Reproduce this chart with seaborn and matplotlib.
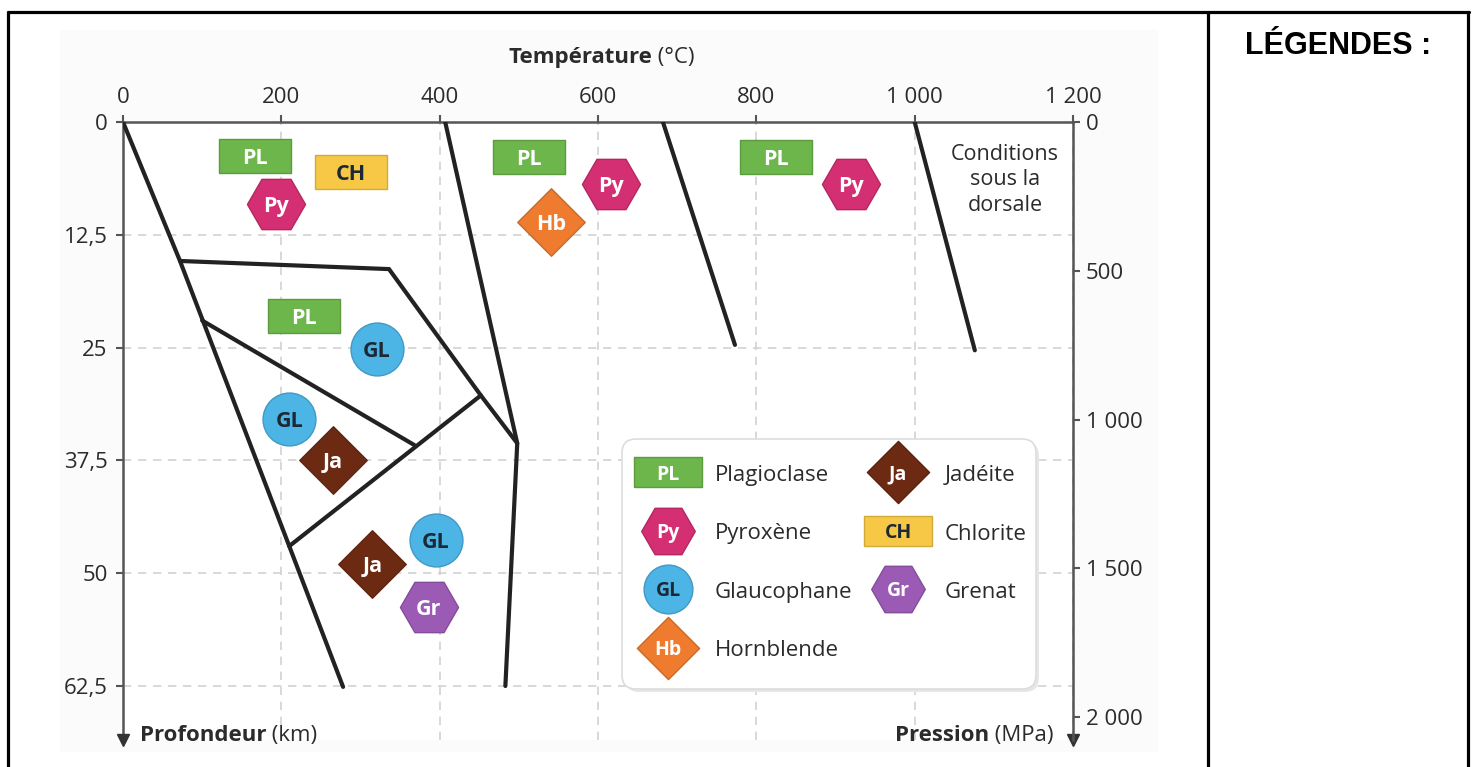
import matplotlib
matplotlib.use("Agg")
import matplotlib.pyplot as plt
import matplotlib.colors as mcolors
import seaborn as sns
from matplotlib.patches import FancyBboxPatch, Rectangle
from matplotlib.lines import Line2D
from matplotlib.text import Annotation

# Axis ticks
temp_ticks = [0, 200, 400, 600, 800, 1000, 1200]
temp_labels = ["0", "200", "400", "600", "800", "1 000", "1 200"]
depth_ticks = [0, 12.5, 25, 37.5, 50, 62.5]
depth_labels = ["0", "12,5", "25", "37,5", "50", "62,5"]
pressure_ticks = [0, 500, 1000, 1500, 2000]
pressure_labels = ["0", "500", "1 000", "1 500", "2 000"]

# Boundary lines (temperature in °C, depth in km)
line1_t = [0, 72, 210, 278]
line1_d = [0, 15.4, 47.0, 62.6]
line2_t = [72, 336, 452, 498]
line2_d = [15.4, 16.3, 30.3, 35.6]
line3_t = [100, 368]
line3_d = [22.0, 35.8]
line4_t = [210, 452]
line4_d = [47.0, 30.3]
line5_t = [407, 498, 483]
line5_d = [0, 35.6, 62.5]
line6_t = [682, 773]
line6_d = [0, 24.7]
line7_t = [1000, 1076]
line7_d = [0, 25.3]

# Minerals
codes = ["PL", "Py", "GL", "Hb", "Ja", "CH", "Gr"]
names = ["Plagioclase", "Pyroxène", "Glaucophane", "Hornblende", "Jadéite", "Chlorite", "Grenat"]
colors = ["#6cb64b", "#d42f72", "#4db4e6", "#ee7b2e", "#6c2a13", "#f7c846", "#9b5bb5"]
text_colors = ["white", "white", "#1c2833", "white", "white", "#1c2833", "white"]

pl_t = [167, 513, 825, 229]
pl_d = [3.8, 3.9, 3.9, 21.5]
py_t = [193, 617, 920]
py_d = [9.1, 6.9, 6.9]
gl_t = [321, 210, 395]
gl_d = [25.2, 32.9, 46.3]
hb_t = [541]
hb_d = [11.1]
ja_t = [265, 315]
ja_d = [37.5, 49.0]
ch_t = [288]
ch_d = [5.5]
gr_t = [386]
gr_d = [53.7]

points_t = [pl_t, py_t, gl_t, hb_t, ja_t, ch_t, gr_t]
points_d = [pl_d, py_d, gl_d, hb_d, ja_d, ch_d, gr_d]

rect = [(-1, -0.46), (1, -0.46), (1, 0.46), (-1, 0.46), (-1, -0.46)]
shapes = [rect, "H", "o", "D", "D", rect, "H"]
sizes = [2750, 1750, 1450, 1180, 1180, 2750, 1750]

sns.set_theme(style="white")
plt.rcParams["font.family"] = ["Open Sans", "DejaVu Sans"]
plt.rcParams["text.color"] = "#2b2b2b"

W, H = 1473, 767


def fx(px):
    return px / W


def fy(py):
    return 1 - py / H


def darker(c, f=0.85):
    r, g, b = mcolors.to_rgb(c)
    return (r * f, g * f, b * f)


fig = plt.figure(figsize=(W / 100, H / 100), dpi=100)

# Outer frame and faint chart panel
fig.patches.append(Rectangle((fx(60), fy(752)), fx(1158) - fx(60), fy(30) - fy(752),
                             transform=fig.transFigure, fc="#fcfbfc", ec="none", zorder=-5))
frame_kw = dict(transform=fig.transFigure, color="black", lw=2.3)
fig.add_artist(Line2D([fx(8), fx(1469)], [fy(12), fy(12)], **frame_kw))
fig.add_artist(Line2D([fx(8), fx(8)], [fy(12), fy(770)], **frame_kw))
fig.add_artist(Line2D([fx(1208), fx(1208)], [fy(12), fy(770)], **frame_kw))
fig.add_artist(Line2D([fx(1468), fx(1468)], [fy(12), fy(770)], **frame_kw))
fig.text(fx(1338), fy(46), "LÉGENDES :", ha="center", va="center", fontsize=22,
         fontweight="bold", family=["Liberation Sans", "DejaVu Sans"], color="black")

# Main axes
ax = fig.add_axes([fx(123), fy(740), fx(1073) - fx(123), fy(122) - fy(740)])
ax.set_facecolor("white")
ax.set_xlim(0, 1200)
depth_max = (740 - 122) / 9.024
ax.set_ylim(depth_max, 0)
km_to_mpa = 2000 / ((717 - 122) / 9.024)

ax.set_xticks(temp_ticks)
ax.set_xticklabels(temp_labels)
ax.set_yticks(depth_ticks)
ax.set_yticklabels(depth_labels)
ax.xaxis.tick_top()
spine_col = "#555555"
ax.tick_params(axis="x", top=True, bottom=False, labeltop=True, labelbottom=False,
               direction="out", length=5, width=1.5, color=spine_col, pad=5,
               labelsize=16, labelcolor="#2b2b2b")
ax.tick_params(axis="y", left=True, direction="out", length=5, width=1.5,
               color=spine_col, pad=6, labelsize=16, labelcolor="#2b2b2b")
for side in ["bottom", "right"]:
    ax.spines[side].set_visible(False)
for side in ["top", "left"]:
    ax.spines[side].set_color(spine_col)
    ax.spines[side].set_linewidth(1.8)
ax.grid(True, ls=(0, (5, 4)), color="#d2d2d2", lw=1.2)
ax.set_axisbelow(True)

ax2 = ax.twinx()
ax2.set_ylim(depth_max * km_to_mpa, 0)
ax2.set_yticks(pressure_ticks)
ax2.set_yticklabels(pressure_labels)
ax2.tick_params(axis="y", right=True, direction="out", length=5, width=1.5,
                color=spine_col, pad=4, labelsize=16, labelcolor="#2b2b2b")
for side in ["top", "bottom", "left"]:
    ax2.spines[side].set_visible(False)
ax2.spines["right"].set_color(spine_col)
ax2.spines["right"].set_linewidth(1.8)
ax2.grid(False)

# Axis arrowheads
for xa in [0, 1]:
    ax.plot([xa], [0.0], marker="v", ms=9, color="#333333", transform=ax.transAxes,
            clip_on=False, zorder=5)

# Boundary lines
line_sets = [(line1_t, line1_d), (line2_t, line2_d), (line3_t, line3_d), (line4_t, line4_d),
             (line5_t, line5_d), (line6_t, line6_d), (line7_t, line7_d)]
for lt, ld in line_sets:
    sns.lineplot(x=lt, y=ld, ax=ax, sort=False, estimator=None, color="#222222",
                 lw=3.0, solid_capstyle="round", solid_joinstyle="miter", zorder=3)

# Mineral symbols
for code, col, tcol, shp, sz, pt, pd_ in zip(codes, colors, text_colors, shapes, sizes,
                                             points_t, points_d):
    sns.scatterplot(x=pt, y=pd_, ax=ax, marker=shp, s=sz, color=col,
                    edgecolor=darker(col), linewidth=1.0, zorder=4)
    for t, d in zip(pt, pd_):
        ax.text(t, d, code, ha="center", va="center_baseline", fontsize=15.5,
                fontweight="bold", color=tcol, zorder=5)

# Label for the ridge geotherm
ax.text(1114, 6.4, "Conditions\nsous la\ndorsale", ha="center", va="center",
        fontsize=15.5, linespacing=1.28, color="#2b2b2b")


# Axis titles (bold name + regular unit)
def two_part(x, y, bold, unit, ha="left"):
    t1 = fig.text(fx(x), fy(y), bold, ha=ha, va="bottom", fontsize=16, fontweight="bold",
                  color="#2b2b2b")
    fig.add_artist(Annotation(" " + unit, xy=(1, 0), xycoords=t1, va="bottom",
                              ha="left", fontsize=16, color="#2b2b2b"))


two_part(652, 68, "Température", "(°C)", ha="right")
two_part(140, 746, "Profondeur", "(km)")
two_part(895, 746, "Pression", "(MPa)")

# Legend box
lax = fig.add_axes([fx(620), fy(693), fx(1041) - fx(620), fy(437) - fy(693)])
lax.set_xlim(0, 421)
lax.set_ylim(256, 0)
lax.axis("off")
lax.add_patch(FancyBboxPatch((5, 5), 414, 250, boxstyle="round,pad=0,rounding_size=14",
                             fc="#e6e6e6", ec="none", zorder=0))
lax.add_patch(FancyBboxPatch((2, 2), 414, 250, boxstyle="round,pad=0,rounding_size=14",
                             fc="white", ec="#dddddd", lw=1.2, zorder=1))
for i, (code, name, col, tcol, shp, sz) in enumerate(zip(codes, names, colors,
                                                        text_colors, shapes, sizes)):
    c, r = i // 4, i % 4
    ix, iy = 48 + c * 230, 35 + r * 58.5
    sns.scatterplot(x=[ix], y=[iy], ax=lax, marker=shp, s=sz * 0.85, color=col,
                    edgecolor=darker(col), linewidth=1.0, zorder=3)
    lax.text(ix, iy, code, ha="center", va="center_baseline", fontsize=14,
             fontweight="bold", color=tcol, zorder=4)
    lax.text(ix + 47, iy + 1, name, ha="left", va="center_baseline", fontsize=16,
             color="#2b2b2b", zorder=4)

fig.savefig("out.png", dpi=100)
